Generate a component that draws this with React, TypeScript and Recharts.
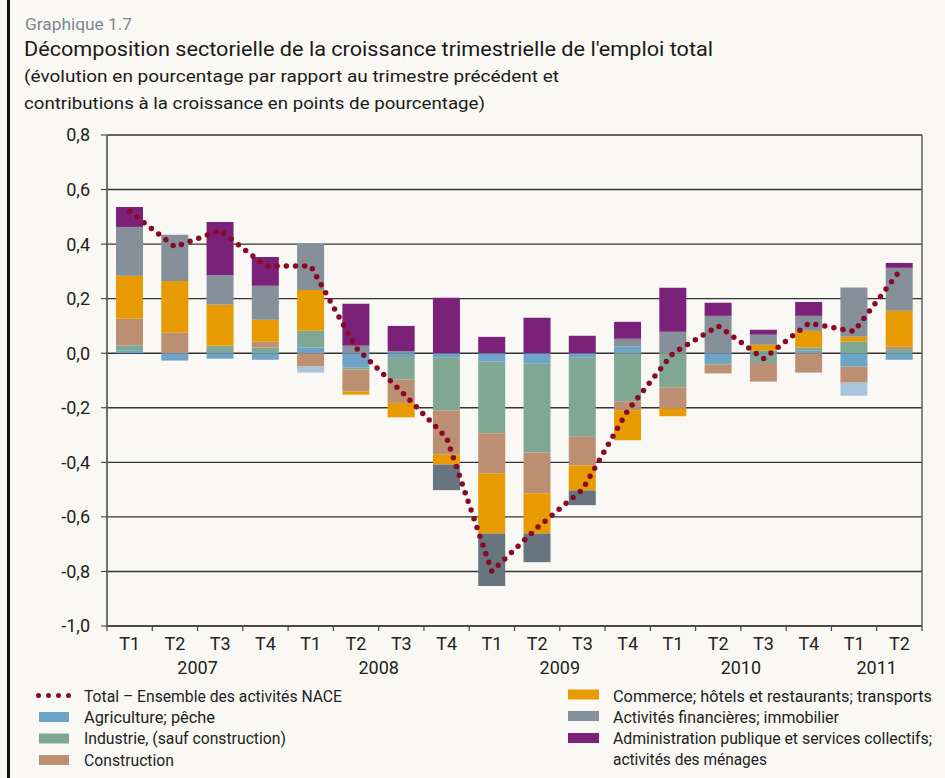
import React from 'react';
import { ComposedChart, Bar, Line, XAxis, YAxis, CartesianGrid, Cell } from 'recharts';

// ---------- Data ----------
const QUARTERS = ['T1', 'T2', 'T3', 'T4', 'T1', 'T2', 'T3', 'T4', 'T1', 'T2', 'T3', 'T4', 'T1', 'T2', 'T3', 'T4', 'T1', 'T2'];
const YEARS = ['2007', '2007', '2007', '2007', '2008', '2008', '2008', '2008', '2009', '2009', '2009', '2009', '2010', '2010', '2010', '2010', '2011', '2011'];

const AGRICULTURE = [0.009, -0.027, -0.02, -0.024, 0.021, -0.052, -0.014, -0.016, -0.031, -0.038, -0.016, 0.025, 0, -0.036, 0.009, 0.009, -0.049, -0.024];
const INDUSTRIE = [0.02, 0, 0.027, 0.021, 0.061, -0.008, -0.082, -0.194, -0.262, -0.326, -0.29, -0.176, -0.125, -0.006, -0.036, 0.012, 0.042, 0.015];
const CONSTRUCTION = [0.097, 0.075, 0, 0.021, -0.049, -0.08, -0.086, -0.162, -0.147, -0.149, -0.105, -0.033, -0.078, -0.032, -0.068, -0.071, -0.059, 0.009];
const COMMERCE = [0.158, 0.19, 0.151, 0.081, 0.15, -0.012, -0.053, -0.036, -0.221, -0.148, -0.092, -0.11, -0.028, 0, 0.022, 0.061, 0.018, 0.132];
const FINANCE = [0.179, 0.169, 0.109, 0.124, 0.168, 0.027, 0.008, -0.094, -0.192, -0.105, -0.054, 0.028, 0.079, 0.137, 0.037, 0.055, 0.181, 0.157];
const ADMINISTRATION = [0.073, 0, 0.194, 0.106, 0, 0.154, 0.092, 0.203, 0.06, 0.13, 0.064, 0.062, 0.161, 0.048, 0.018, 0.051, 0, 0.018];
const AUTRES = [0, 0, 0, 0, -0.022, 0, 0, 0, 0, 0, 0, 0, 0, 0, 0, 0, -0.048, 0];
const TOTAL = [0.52, 0.39, 0.45, 0.32, 0.32, 0.02, -0.14, -0.31, -0.8, -0.64, -0.5, -0.21, 0.0, 0.1, -0.02, 0.11, 0.08, 0.3];

const Y_TICKS = [-1, -0.8, -0.6, -0.4, -0.2, 0, 0.2, 0.4, 0.6, 0.8];

const data = QUARTERS.map((q, i) => ({
  key: `${YEARS[i]}-${q}`,
  agri: AGRICULTURE[i],
  ind: INDUSTRIE[i],
  cons: CONSTRUCTION[i],
  com: COMMERCE[i],
  fin: FINANCE[i],
  adm: ADMINISTRATION[i],
  aut: AUTRES[i],
  total: TOTAL[i],
}));

// ---------- Styles ----------
const FONT = 'Roboto, "Noto Sans", sans-serif';
const BG = '#f9f8f4';
const C_AGRI = '#6ca3c7';
const C_IND = '#7fa794';
const C_CONS = '#bc8e72';
const C_COM = '#e89b00';
const C_FIN = '#86909a';
const C_FIN_NEG = '#68757f';
const C_ADM = '#7b2179';
const C_AUT = '#a8c5db';
const C_TOT = '#8a0a26';

const W = 945;
const H = 778;
const PLOT_LEFT = 107;
const PLOT_RIGHT = 922;
const PLOT_TOP = 135;
const PLOT_BOTTOM = 626;
const XAXIS_H = 60;
const N = QUARTERS.length;
const BAND = (PLOT_RIGHT - PLOT_LEFT) / N;

const fmt = (v: number) => v.toFixed(1).replace('.', ',');

function XTick(props: any) {
  const { x, payload } = props;
  const i: number = payload && payload.index != null ? payload.index : props.index;
  const ay = PLOT_BOTTOM;
  const yr = YEARS[i];
  const s = YEARS.indexOf(yr);
  const e = YEARS.lastIndexOf(yr);
  const mid = (s + e) / 2;
  const showYear = Math.floor(mid) === i;
  return (
    <g>
      <line x1={x - BAND / 2} x2={x - BAND / 2} y1={ay} y2={ay + 5} stroke="#444" strokeWidth={1.2} />
      {i === N - 1 && (
        <>
          <line x1={x + BAND / 2} x2={x + BAND / 2} y1={ay} y2={ay + 5} stroke="#444" strokeWidth={1.2} />
          <line x1={x + BAND / 2} x2={x + BAND / 2} y1={PLOT_TOP} y2={ay} stroke="#555" strokeWidth={1.4} />
        </>
      )}
      <text x={x} y={ay + 24} textAnchor="middle" fontSize={18} fill="#222" fontFamily={FONT}>
        {QUARTERS[i]}
      </text>
      {showYear && (
        <text x={x + (mid - i) * BAND} y={ay + 48} textAnchor="middle" fontSize={18} fill="#222" fontFamily={FONT}>
          {yr}
        </text>
      )}
    </g>
  );
}

function LegendText({ x, y, w, children }: { x: number; y: number; w: number; children: React.ReactNode }) {
  return (
    <text x={x} y={y} fontSize={16} fill="#222" fontFamily={FONT} textLength={w} lengthAdjust="spacingAndGlyphs">
      {children}
    </text>
  );
}

export default function App() {
  return (
    <div style={{ position: 'absolute', left: 0, top: 0, width: W, height: H, background: BG, overflow: 'hidden' }}>
      <div style={{ position: 'absolute', left: 0, top: 0 }}>
        <ComposedChart
          width={W}
          height={H}
          data={data}
          stackOffset="sign"
          barSize={27}
          margin={{ top: PLOT_TOP, right: W - PLOT_RIGHT, left: 0, bottom: H - PLOT_BOTTOM - XAXIS_H }}
        >
          <CartesianGrid vertical={false} stroke="#333" strokeWidth={1.4} />
          <XAxis
            dataKey="key"
            height={XAXIS_H}
            interval={0}
            tickLine={false}
            axisLine={{ stroke: '#444', strokeWidth: 1.5 }}
            tick={<XTick />}
          />
          <YAxis
            width={PLOT_LEFT}
            domain={[-1, 0.8]}
            ticks={Y_TICKS}
            interval={0}
            tickFormatter={fmt}
            tickSize={6}
            tickMargin={11}
            tickLine={{ stroke: '#333' }}
            axisLine={{ stroke: '#6f6f6f', strokeWidth: 2 }}
            tick={{ fontSize: 18, fill: '#222', fontFamily: FONT }}
          />
          <Bar dataKey="agri" stackId="a" fill={C_AGRI} isAnimationActive={false} />
          <Bar dataKey="ind" stackId="a" fill={C_IND} isAnimationActive={false} />
          <Bar dataKey="cons" stackId="a" fill={C_CONS} isAnimationActive={false} />
          <Bar dataKey="com" stackId="a" fill={C_COM} isAnimationActive={false} />
          <Bar dataKey="fin" stackId="a" fill={C_FIN} isAnimationActive={false}>
            {data.map((d) => (
              <Cell key={d.key} fill={d.fin < 0 ? C_FIN_NEG : C_FIN} />
            ))}
          </Bar>
          <Bar dataKey="adm" stackId="a" fill={C_ADM} isAnimationActive={false} />
          <Bar dataKey="aut" stackId="a" fill={C_AUT} isAnimationActive={false} />
          <Line
            dataKey="total"
            type="linear"
            stroke={C_TOT}
            strokeWidth={5.5}
            strokeDasharray="0 9.2"
            strokeLinecap="round"
            dot={false}
            activeDot={false}
            isAnimationActive={false}
          />
        </ComposedChart>
      </div>
      <svg width={W} height={H} style={{ position: 'absolute', left: 0, top: 0, pointerEvents: 'none' }}>
        <rect x={7} y={0} width={3} height={H} fill="#111" />
        <text x={25} y={30} fontSize={16} fill="#7d8791" fontFamily={FONT} textLength={107} lengthAdjust="spacingAndGlyphs">
          Graphique 1.7
        </text>
        <text x={24} y={56} fontSize={20} fill="#1a1a1a" fontFamily={FONT} textLength={689} lengthAdjust="spacingAndGlyphs">
          Décomposition sectorielle de la croissance trimestrielle de l'emploi total
        </text>
        <text x={24} y={82} fontSize={16.5} fill="#1a1a1a" fontFamily={FONT} textLength={535} lengthAdjust="spacingAndGlyphs">
          (évolution en pourcentage par rapport au trimestre précédent et
        </text>
        <text x={24} y={109} fontSize={16.5} fill="#1a1a1a" fontFamily={FONT} textLength={461} lengthAdjust="spacingAndGlyphs">
          contributions à la croissance en points de pourcentage)
        </text>

        {/* Legend left column */}
        <line x1={38.5} x2={69} y1={695.5} y2={695.5} stroke={C_TOT} strokeWidth={5} strokeDasharray="0 10" strokeLinecap="round" />
        <LegendText x={84} y={701.5} w={258}>Total – Ensemble des activités NACE</LegendText>
        <rect x={39} y={712} width={30} height={10} fill={C_AGRI} />
        <LegendText x={84} y={722.5} w={131}>Agriculture; pêche</LegendText>
        <rect x={39} y={733.5} width={30} height={10} fill={C_IND} />
        <LegendText x={84} y={744} w={202}>Industrie, (sauf construction)</LegendText>
        <rect x={39} y={755} width={30} height={10} fill={C_CONS} />
        <LegendText x={84} y={765.5} w={90}>Construction</LegendText>

        {/* Legend right column */}
        <rect x={568} y={689.5} width={31} height={10} fill={C_COM} />
        <LegendText x={613} y={701.5} w={319}>Commerce; hôtels et restaurants; transports</LegendText>
        <rect x={568} y={711} width={31} height={10} fill={C_FIN} />
        <LegendText x={613} y={722.7} w={226}>Activités financières; immobilier</LegendText>
        <rect x={568} y={733} width={31} height={10} fill={C_ADM} />
        <LegendText x={613} y={744} w={319}>Administration publique et services collectifs;</LegendText>
        <LegendText x={613} y={765} w={154}>activités des ménages</LegendText>
      </svg>
    </div>
  );
}
